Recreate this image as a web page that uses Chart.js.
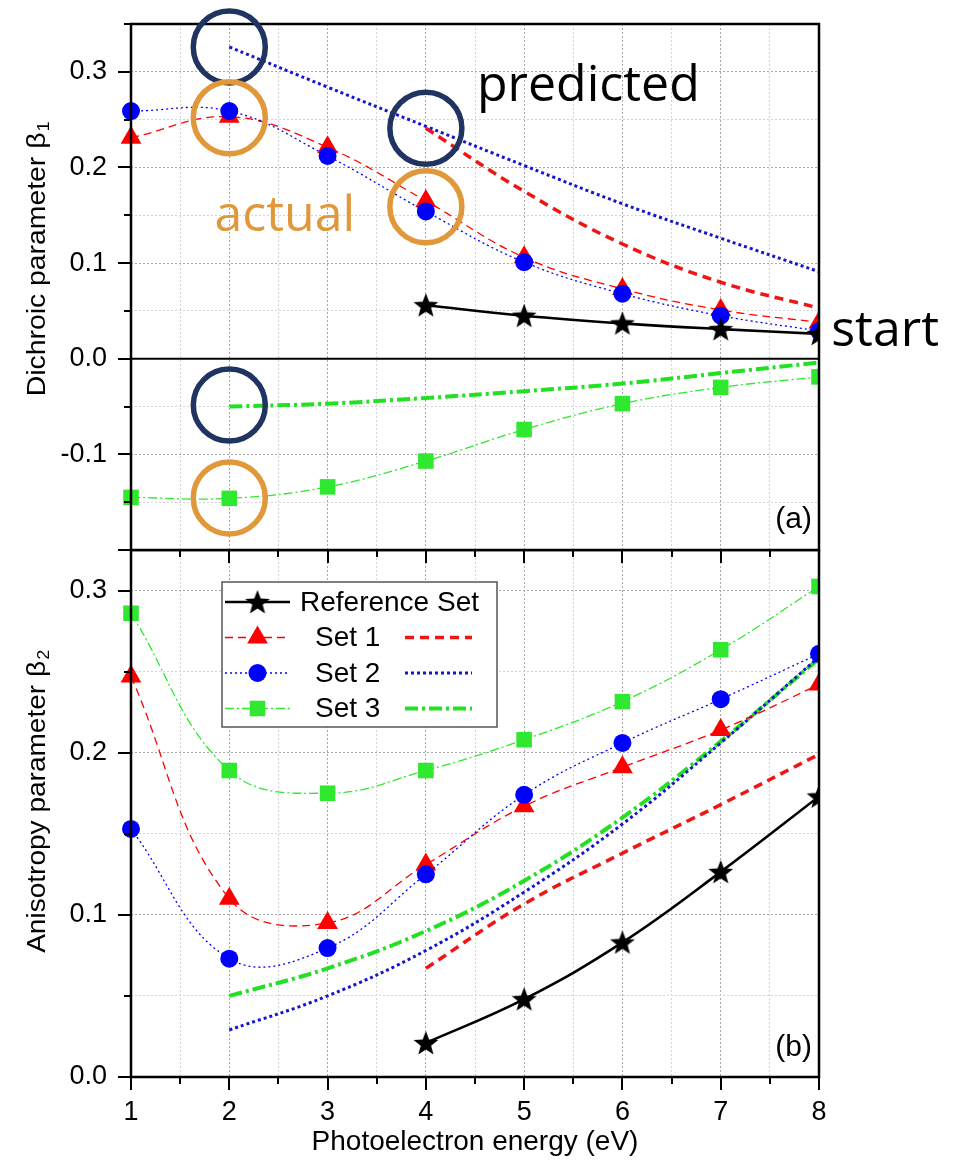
<!DOCTYPE html>
<html>
<head>
<meta charset="utf-8">
<script src="https://cdn.jsdelivr.net/npm/chart.js@4.4.1/dist/chart.umd.min.js"></script>
<style>
  body { margin: 0; background: #fff; }
  #wrap { position: relative; width: 969px; height: 1165px; }
  canvas { position: absolute; left: 0; }
  #topChart { top: 0; z-index: 2; }
  #bottomChart { top: 550px; z-index: 1; }
</style>
</head>
<body>
<div id="wrap">
  <canvas id="topChart" width="969" height="566"></canvas>
  <canvas id="bottomChart" width="969" height="615"></canvas>
</div>
<script>
// photoelectron energy (eV)
const energy = [1, 2, 3, 4, 5, 6, 7, 8];
const seriesNames = ['Reference Set', 'Set 1', 'Set 2', 'Set 3'];

// (a) dichroic parameter beta1 - markers = actual, thick lines = predicted
const refB1 = [null, null, null, 0.056, 0.045, 0.037, 0.031, 0.026];
const set1B1 = [0.231, 0.253, 0.221, 0.165, 0.106, 0.073, 0.051, 0.038];
const set2B1 = [0.259, 0.259, 0.212, 0.154, 0.101, 0.068, 0.045, 0.029];
const set3B1 = [-0.145, -0.146, -0.134, -0.107, -0.074, -0.047, -0.030, -0.019];
const set1B1Pred = [null, null, null, 0.241, 0.175, 0.120, 0.080, 0.053];
const set2B1Pred = [null, 0.326, 0.284, 0.243, 0.202, 0.162, 0.126, 0.091];
const set3B1Pred = [null, -0.050, -0.047, -0.041, -0.034, -0.026, -0.015, -0.004];

// (b) anisotropy parameter beta2
const refB2 = [null, null, null, 0.021, 0.048, 0.083, 0.1265, 0.173];
const set1B2 = [0.247, 0.110, 0.095, 0.131, 0.167, 0.191, 0.214, 0.242];
const set2B2 = [0.153, 0.073, 0.0795, 0.125, 0.174, 0.206, 0.233, 0.261];
const set3B2 = [0.286, 0.189, 0.175, 0.189, 0.208, 0.2315, 0.2635, 0.3025];
const set1B2Pred = [null, null, null, 0.067, 0.1067, 0.138, 0.168, 0.199];
const set2B2Pred = [null, 0.029, 0.050, 0.078, 0.114, 0.156, 0.206, 0.259];
const set3B2Pred = [null, 0.050, 0.067, 0.090, 0.121, 0.160, 0.207, 0.258];

// labelled ticks
const b1TickLabels = [-0.1, 0.0, 0.1, 0.2, 0.3];
const b2TickLabels = [0.0, 0.1, 0.2, 0.3];
const energyTickLabels = [1, 2, 3, 4, 5, 6, 7, 8];

const RED = '#ff0000', BLUE = '#0000ff', GREEN = '#2fe82f';
const NAVY = '#1f3461', ORANGE = '#e0983a';
const FONT = "'Liberation Sans', Arial, sans-serif";

Chart.defaults.font.family = FONT;
Chart.defaults.color = '#000';

// filled five point star for the reference set
function makeStar(r) {
  const c = document.createElement('canvas');
  c.width = c.height = Math.ceil(r * 2 + 2);
  const g = c.getContext('2d');
  const m = c.width / 2;
  g.beginPath();
  for (let i = 0; i < 10; i++) {
    const rad = i % 2 ? r * 0.42 : r;
    const a = -Math.PI / 2 + i * Math.PI / 5;
    g.lineTo(m + rad * Math.cos(a), m + 1 + rad * Math.sin(a));
  }
  g.closePath();
  g.fillStyle = '#000';
  g.fill();
  return c;
}
const star = makeStar(13);

const styles = {
  ref: {borderColor: '#000', borderWidth: 2.6, pointStyle: star, pointRadius: 12},
  s1: {borderColor: RED, borderWidth: 1.3, borderDash: [8, 5], pointStyle: 'triangle', pointRadius: 12, pointBackgroundColor: RED},
  s2: {borderColor: BLUE, borderWidth: 1.3, borderDash: [2, 3], pointStyle: 'circle', pointRadius: 9, pointBackgroundColor: BLUE},
  s3: {borderColor: GREEN, borderWidth: 1.3, borderDash: [9, 3, 2, 3], pointStyle: 'rect', pointRadius: 11, pointBackgroundColor: GREEN},
  s1p: {borderColor: '#f01515', borderWidth: 3.5, borderDash: [9, 6], pointRadius: 0},
  s2p: {borderColor: '#1515d0', borderWidth: 3, borderDash: [3, 3], pointRadius: 0},
  s3p: {borderColor: '#22e022', borderWidth: 4, borderDash: [13, 4, 3, 4], pointRadius: 0}
};

function series(key, label, vals) {
  return Object.assign({
    key, label,
    data: energy.map((x, i) => ({x, y: vals[i]})).filter(p => p.y !== null),
    tension: 0.4, fill: false, pointBorderWidth: 0,
    clip: {left: false, top: false, right: 0, bottom: false}
  }, styles[key]);
}

function isStep(v, s) {
  return Math.abs(v / s - Math.round(v / s)) < 1e-6;
}

function drawMarker(ctx, style, r, color, x, y) {
  if (typeof style !== 'string') {
    ctx.drawImage(style, x - style.width / 2, y - style.height / 2);
    return;
  }
  ctx.fillStyle = color;
  ctx.beginPath();
  if (style === 'triangle') {
    for (let i = 0; i < 3; i++) {
      const a = i * 2 * Math.PI / 3;
      ctx.lineTo(x + Math.sin(a) * r, y - Math.cos(a) * r);
    }
  } else if (style === 'rect') {
    const s = Math.SQRT1_2 * r;
    ctx.rect(x - s, y - s, 2 * s, 2 * s);
  } else {
    ctx.arc(x, y, r, 0, 2 * Math.PI);
  }
  ctx.closePath();
  ctx.fill();
}

function drawSample(ctx, ds, x1, x2, y, marker) {
  ctx.save();
  ctx.strokeStyle = ds.borderColor;
  ctx.lineWidth = ds.borderWidth;
  ctx.setLineDash(ds.borderDash || []);
  ctx.beginPath();
  ctx.moveTo(x1, y);
  ctx.lineTo(x2, y);
  ctx.stroke();
  ctx.setLineDash([]);
  if (marker) drawMarker(ctx, ds.pointStyle, ds.pointRadius, ds.pointBackgroundColor, (x1 + x2) / 2, y);
  ctx.restore();
}

// frame, tick marks, titles, annotations and the legend
const decor = {
  id: 'decor',
  afterDraw(chart, args, o) {
    const {ctx, chartArea: a, scales: {x, y}} = chart;
    ctx.save();
    ctx.setLineDash([]);
    ctx.fillStyle = '#000';
    y.ticks.forEach(t => {
      if (!isStep(t.value, 0.05)) return;
      const py = Math.round(y.getPixelForValue(t.value));
      const len = isStep(t.value, 0.1) ? 13 : 7;
      ctx.fillRect(a.left - len, py - 1, len, 2);
    });
    x.ticks.forEach(t => {
      const px = Math.round(x.getPixelForValue(t.value));
      const len = isStep(t.value, 1) ? 13 : 7;
      ctx.fillRect(px - 1, a.bottom, 2, len);
    });
    ctx.strokeStyle = '#000';
    if (o.zero) {
      ctx.lineWidth = 2;
      const p0 = y.getPixelForValue(0);
      ctx.beginPath(); ctx.moveTo(a.left, p0); ctx.lineTo(a.right, p0); ctx.stroke();
    }
    ctx.lineWidth = 2.5;
    ctx.strokeRect(a.left, a.top, a.right - a.left, a.bottom - a.top);

    // y title with subscript, stretched along its length
    ctx.translate(a.left - 93, y.getPixelForValue(o.titleAt));
    ctx.rotate(-Math.PI / 2);
    ctx.font = '25px ' + FONT;
    const w1 = ctx.measureText(o.yTitle).width;
    ctx.font = '16px ' + FONT;
    const w2 = ctx.measureText(o.ySub).width;
    const total = w1 + w2 + 1;
    ctx.scale(o.titleLen / total, 1);
    ctx.fillStyle = '#000';
    ctx.textBaseline = 'middle';
    ctx.textAlign = 'left';
    ctx.font = '25px ' + FONT;
    ctx.fillText(o.yTitle, -total / 2, 0);
    ctx.font = '16px ' + FONT;
    ctx.fillText(o.ySub, -total / 2 + w1 + 1, 7);
    ctx.setTransform(1, 0, 0, 1, 0, 0);

    // panel letter
    ctx.font = '30px ' + FONT;
    ctx.textAlign = 'right';
    ctx.textBaseline = 'middle';
    ctx.fillText(o.panel, a.right - 7, y.getPixelForValue(o.panelAt));

    // legend box
    if (o.legend) {
      const byKey = {};
      chart.data.datasets.forEach(d => { byKey[d.key] = d; });
      const bl = a.left + 91, bt = a.top + 32;
      ctx.fillStyle = '#fff';
      ctx.fillRect(bl, bt, 275, 145);
      ctx.strokeStyle = '#555';
      ctx.lineWidth = 1.5;
      ctx.strokeRect(bl, bt, 275, 145);
      const rowKeys = ['ref', 's1', 's2', 's3'];
      ctx.font = '28px ' + FONT;
      ctx.textAlign = 'left';
      ctx.textBaseline = 'middle';
      rowKeys.forEach((k, i) => {
        const ry = bt + 20 + i * 35.5;
        drawSample(ctx, byKey[k], bl + 3, bl + 68, ry, true);
        ctx.fillStyle = '#000';
        ctx.fillText(seriesNames[i], i === 0 ? bl + 78 : bl + 93, ry + 1);
        if (byKey[k + 'p']) drawSample(ctx, byKey[k + 'p'], bl + 183, bl + 250, ry, false);
      });
    }

    // highlight circles and notes
    (o.circles || []).forEach(c => {
      ctx.strokeStyle = c.color;
      ctx.lineWidth = 5.5;
      ctx.beginPath();
      ctx.arc(x.getPixelForValue(c.x), y.getPixelForValue(c.y), 36, 0, 2 * Math.PI);
      ctx.stroke();
    });
    (o.notes || []).forEach(n => {
      ctx.fillStyle = n.color;
      ctx.font = "50px 'Open Sans', 'Noto Sans', sans-serif";
      ctx.textAlign = 'left';
      ctx.textBaseline = 'alphabetic';
      ctx.fillText(n.text, x.getPixelForValue(n.x), y.getPixelForValue(n.y));
    });
    ctx.restore();
  }
};

function gridColor(step) {
  return c => isStep(c.tick.value, step) ? '#a9a9a9' : '#d4d4d4';
}

function makeOptions(yMin, yMax, tickLabels, xHeight, showX, deco) {
  return {
    responsive: false,
    animation: false,
    layout: {padding: {top: deco.padTop, right: 150, bottom: 0, left: 0}, autoPadding: false},
    plugins: {legend: {display: false}, tooltip: {enabled: false}, decor: deco},
    scales: {
      x: {
        type: 'linear', min: 1, max: 8,
        afterFit: s => { s.height = xHeight; s.paddingLeft = 0; s.paddingRight = 0; },
        grid: {color: gridColor(1), lineWidth: 1, drawTicks: false},
        border: {display: false, dash: [2, 2]},
        ticks: {
          display: showX, stepSize: 0.5, autoSkip: false, maxRotation: 0, padding: 19,
          font: {size: 27},
          callback: v => energyTickLabels.includes(v) ? String(v) : ''
        },
        title: {display: showX, text: 'Photoelectron energy (eV)', font: {size: 28}, padding: {top: 0, bottom: 6}}
      },
      y: {
        type: 'linear', min: yMin, max: yMax,
        afterFit: s => { s.width = 131; s.paddingTop = 0; s.paddingBottom = 0; },
        grid: {color: gridColor(0.1), lineWidth: 1, drawTicks: false},
        border: {display: false, dash: [2, 2]},
        ticks: {
          stepSize: 0.05, autoSkip: false, padding: 24, font: {size: 27},
          callback: v => tickLabels.some(t => Math.abs(t - v) < 1e-6) ? v.toFixed(1) : ''
        }
      }
    }
  };
}

new Chart(document.getElementById('topChart'), {
  type: 'line',
  data: {
    datasets: [
      series('ref', 'Reference Set', refB1),
      series('s2', 'Set 2', set2B1),
      series('s1', 'Set 1', set1B1),
      series('s3', 'Set 3', set3B1),
      series('s1p', 'Set 1', set1B1Pred),
      series('s2p', 'Set 2', set2B1Pred),
      series('s3p', 'Set 3', set3B1Pred)
    ]
  },
  options: makeOptions(-0.2, 0.35, b1TickLabels, 16, false, {
    padTop: 24, zero: true,
    yTitle: 'Dichroic parameter β', ySub: '1', titleAt: 0.1045, titleLen: 275,
    panel: '(a)', panelAt: -0.168,
    circles: [
      {x: 2, y: 0.326, color: NAVY}, {x: 4, y: 0.241, color: NAVY}, {x: 2, y: -0.0485, color: NAVY},
      {x: 2, y: 0.252, color: ORANGE}, {x: 4, y: 0.159, color: ORANGE}, {x: 2, y: -0.1455, color: ORANGE}
    ],
    notes: [
      {text: 'predicted', x: 4.52, y: 0.27, color: '#000'},
      {text: 'actual', x: 1.85, y: 0.134, color: ORANGE},
      {text: 'start', x: 8.125, y: 0.0135, color: '#000'}
    ]
  }),
  plugins: [decor]
});

new Chart(document.getElementById('bottomChart'), {
  type: 'line',
  data: {
    datasets: [
      series('ref', 'Reference Set', refB2),
      series('s2', 'Set 2', set2B2),
      series('s1', 'Set 1', set1B2),
      series('s3', 'Set 3', set3B2),
      series('s1p', 'Set 1', set1B2Pred),
      series('s2p', 'Set 2', set2B2Pred),
      series('s3p', 'Set 3', set3B2Pred)
    ]
  },
  options: makeOptions(0, 0.325, b2TickLabels, 88, true, {
    padTop: 0, zero: false,
    yTitle: 'Anisotropy parameter β', ySub: '2', titleAt: 0.170, titleLen: 303,
    panel: '(b)', panelAt: 0.018,
    legend: true
  }),
  plugins: [decor]
});
</script>
</body>
</html>
